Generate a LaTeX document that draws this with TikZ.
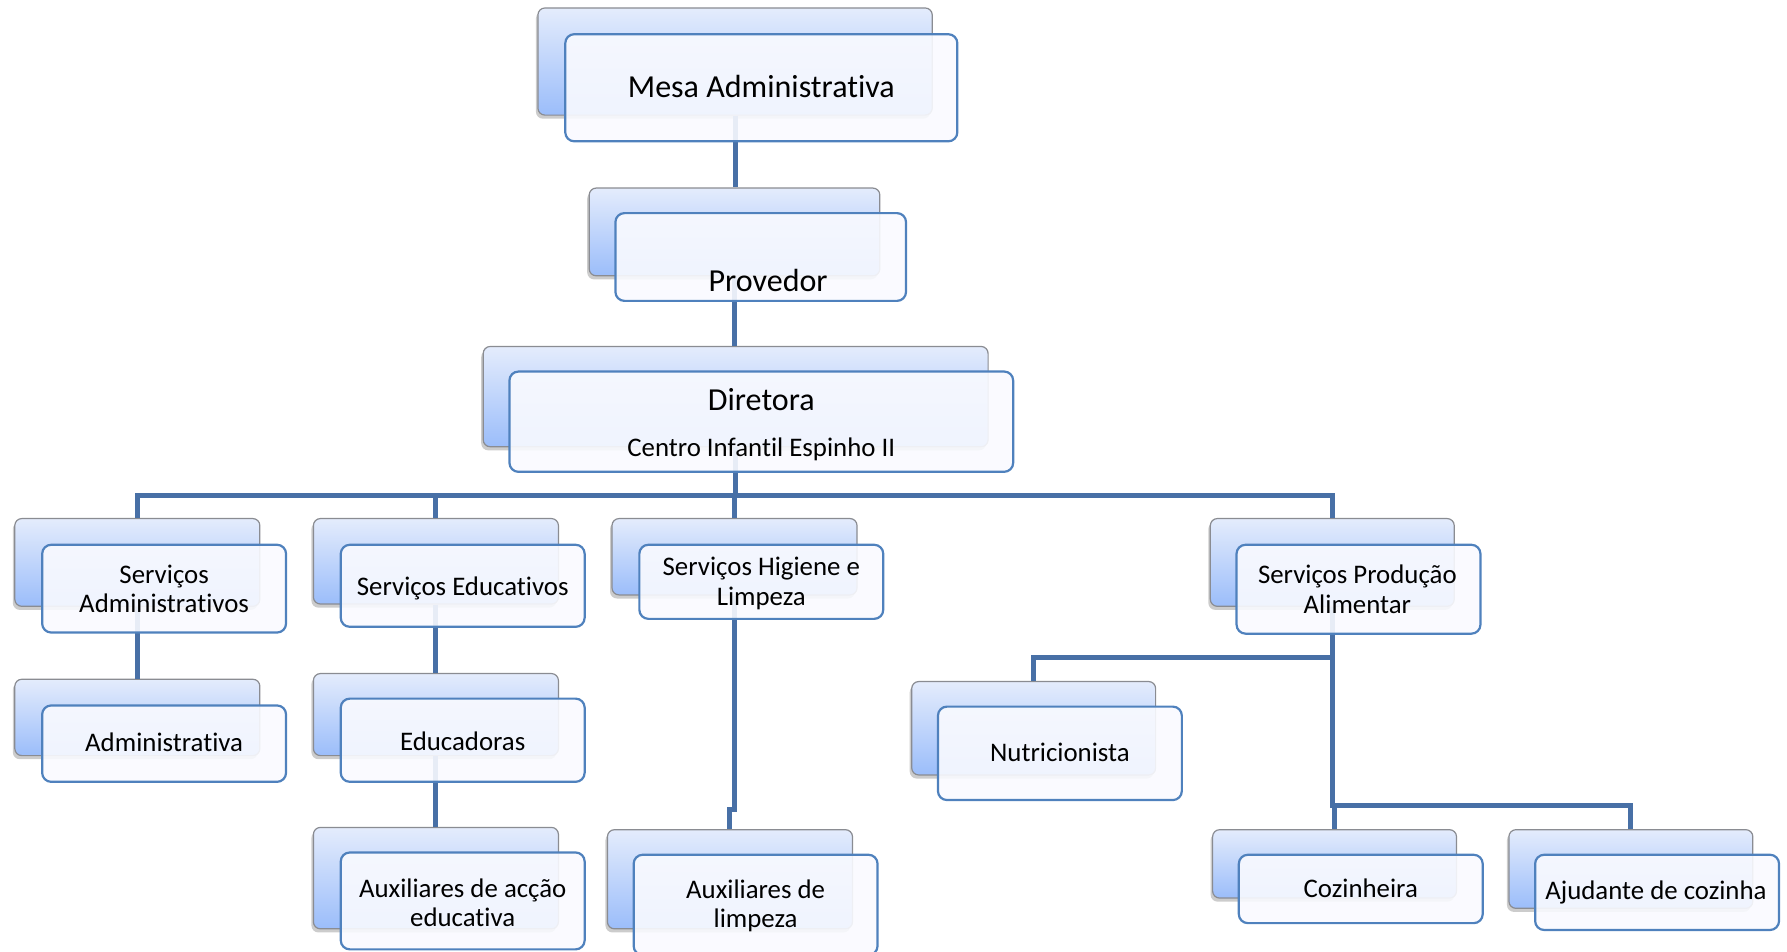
\documentclass[tikz,border=0pt]{standalone}
\usepackage{fontspec}
\setmainfont{Carlito}[Ligatures={NoCommon}]
\usetikzlibrary{shadows}

\definecolor{linkblue}{RGB}{72,112,166}
\definecolor{frontblue}{RGB}{79,129,189}
\definecolor{frontfill}{RGB}{249,250,255}
\definecolor{backgray}{RGB}{138,140,146}
\definecolor{backtop}{RGB}{228,236,252}
\definecolor{backbot}{RGB}{155,189,250}

\begin{document}
\begin{tikzpicture}[
    x=0.2mm, y=-0.2mm,
    backbox/.style 2 args={rectangle, rounded corners=3.5pt, draw=backgray, line width=0.6pt,
        top color=backtop, bottom color=backbot, inner sep=0pt,
        minimum width=#1*0.2mm, minimum height=#2*0.2mm,
        drop shadow={shadow xshift=-1pt, shadow yshift=-1.8pt, opacity=0.4}},
    frontbox/.style 2 args={rectangle, rounded corners=4.5pt, draw=frontblue, line width=1.1pt,
        fill=frontfill, fill opacity=0.9, inner sep=0pt,
        minimum width=#1*0.2mm, minimum height=#2*0.2mm},
    bigtext/.style={font=\fontsize{16}{19}\selectfont},
    smalltext/.style={font=\fontsize{13.4}{14.6}\selectfont, align=center},
    link/.style={draw=linkblue, line width=2.5pt}
]
    \useasboundingbox (0,0) rectangle (1568,835);

    % Back boxes
    \node[backbox={346}{94}] (mesa) at (645,54) {};
    \node[backbox={255}{77}] (prov) at (644.5,203.5) {};
    \node[backbox={443}{88}] (dir) at (645.5,348) {};
    \node[backbox={215}{77}] (sadm) at (120.5,493.5) {};
    \node[backbox={215}{75}] (sedu) at (382.5,492.5) {};
    \node[backbox={215}{67}] (shig) at (644.5,488.5) {};
    \node[backbox={214}{77}] (spro) at (1169,493.5) {};
    \node[backbox={215}{67}] (adm) at (120.5,629.5) {};
    \node[backbox={215}{72}] (educ) at (382.5,627) {};
    \node[backbox={214}{82}] (nutr) at (907,639) {};
    \node[backbox={215}{89}] (auxe) at (382.5,770.5) {};
    \node[backbox={215}{87}] (auxl) at (640.5,771.5) {};
    \node[backbox={214}{60}] (cozi) at (1171,758) {};
    \node[backbox={214}{69}] (ajud) at (1431,762.5) {};

    % Connections
    \coordinate (bus) at (0,435);
    \coordinate (jog) at (0,710);
    \coordinate (nbr) at (0,577);
    \coordinate (cbr) at (0,707);
    \draw[link] (mesa.south) -- (mesa.south |- prov.north);
    \draw[link] (prov.south) -- (prov.south |- dir.north);
    \draw[link] (dir.south) -- (dir.south |- bus);
    \draw[link] (sadm.north) -- (sadm.north |- bus) -- (spro.north |- bus) -- (spro.north);
    \draw[link] (sedu.north |- bus) -- (sedu.north);
    \draw[link] (shig.north |- bus) -- (shig.north);
    \draw[link] (sadm.south) -- (adm.north);
    \draw[link] (sedu.south) -- (educ.north);
    \draw[link] (educ.south) -- (auxe.north);
    \draw[link] (shig.south) -- (shig.south |- jog) -| (auxl.north);
    \draw[link] (spro.south) -- (spro.south |- cbr) -| (cozi.north);
    \draw[link] (spro.south |- nbr) -| (nutr.north);
    \draw[link] (spro.south |- cbr) -| (ajud.north);

    % Front boxes
    \node[frontbox={344}{94}] (mesaF) at (668,77) {};
    \node[frontbox={255}{77}] (provF) at (667.5,225.5) {};
    \node[frontbox={442}{88}] (dirF) at (668,370) {};
    \node[frontbox={214}{77}] (sadmF) at (144,516.5) {};
    \node[frontbox={214}{72}] (seduF) at (406,514) {};
    \node[frontbox={214}{65}] (shigF) at (668,510.5) {};
    \node[frontbox={214}{78}] (sproF) at (1192,517) {};
    \node[frontbox={214}{67}] (admF) at (144,652.5) {};
    \node[frontbox={214}{73}] (educF) at (406,649.5) {};
    \node[frontbox={214}{82}] (nutrF) at (930,661) {};
    \node[frontbox={214}{85}] (auxeF) at (406,790.5) {};
    \node[frontbox={214}{88}] (auxlF) at (663,794) {};
    \node[frontbox={214}{60}] (coziF) at (1194,780) {};
    \node[frontbox={214}{66}] (ajudF) at (1454,783) {};

    % Texts
    \node[bigtext] (mesaTxt) at (668,76) {Mesa Administrativa};
    \node[bigtext] (provTxt) at (674,246) {Provedor};
    \node[bigtext] (dirTxt) at (668,351) {Diretora};
    \node[smalltext] (dirSub) at (668,394) {Centro Infantil Espinho II};
    \node[smalltext] (sadmTxt) at (144,517) {Serviços\\Administrativos};
    \node[smalltext] (seduTxt) at (406,516) {Serviços Educativos};
    \node[smalltext] (shigTxt) at (668,512) {Serviços Higiene e\\Limpeza};
    \node[smalltext] (sproTxt) at (1191,517) {Serviços Produção\\Alimentar};
    \node[smalltext] (admTxt) at (144,651) {Administrativa};
    \node[smalltext] (educTxt) at (406,650) {Educadoras};
    \node[smalltext] (nutrTxt) at (930,660) {Nutricionista};
    \node[smalltext] (auxeTxt) at (406,792) {Auxiliares de acção\\educativa};
    \node[smalltext] (auxlTxt) at (663,795) {Auxiliares de\\limpeza};
    \node[smalltext] (coziTxt) at (1194,779) {Cozinheira};
    \node[smalltext] (ajudTxt) at (1453,783) {Ajudante de cozinha};
\end{tikzpicture}
\end{document}
